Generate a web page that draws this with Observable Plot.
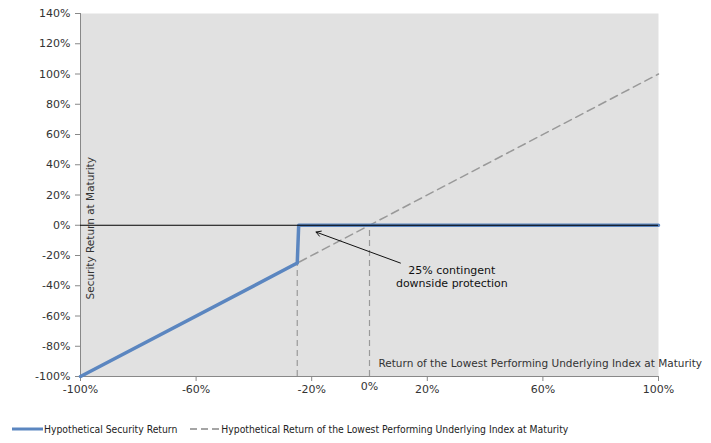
<!DOCTYPE html>
<html><head><meta charset="utf-8">
<script src="https://cdn.jsdelivr.net/npm/d3@7"></script>
<script src="https://cdn.jsdelivr.net/npm/@observablehq/plot@0.6"></script>
<style>
body{margin:0;background:#fff;font-family:"DejaVu Sans",Verdana,sans-serif;}
#legend{display:flex;align-items:center;height:28px;font-family:"DejaVu Sans Condensed","DejaVu Sans",sans-serif;font-stretch:condensed;font-size:10.3px;color:#222;padding-left:12px;}
#legend svg{display:inline-block;margin-right:1px;}
</style>
</head><body>
<div id="chart"></div>
<div id="legend">
<svg width="31" height="6"><line x1="0" y1="3" x2="31" y2="3" stroke="#5b86c0" stroke-width="3"/></svg><span>Hypothetical Security Return</span>
<svg width="30" height="6" style="margin-left:13px"><line x1="0" y1="3" x2="30" y2="3" stroke="#888" stroke-width="1.5" stroke-dasharray="7,4"/></svg><span>Hypothetical Return of the Lowest Performing Underlying Index at Maturity</span>
</div>
<script>
const indexX = [-100, 100];
const indexY = [-100, 100];
const securityX = [-100, -25, -24.5, 100];
const securityY = [-100, -25, 0, 0];
const guideX = [-25, 0];
const guideTop = [-25, 0];
const yTicks = [-100, -80, -60, -40, -20, 0, 20, 40, 60, 80, 100, 120, 140];
const xTicks = [-100, -60, -20, 20, 60, 100];
const annotationLines = ["25% contingent", "downside protection"];
const arrowFrom = [10.7, -25];
const arrowTo = [-18.5, -4.5];

const indexData = indexX.map((x, i) => ({x, y: indexY[i]}));
const secData = securityX.map((x, i) => ({x, y: securityY[i]}));
const guides = guideX.map((x, i) => ({x, y2: guideTop[i]}));

const chart = Plot.plot({
  width: 711,
  height: 415,
  marginTop: 13,
  marginBottom: 39,
  marginLeft: 80,
  marginRight: 53,
  style: {fontFamily: "DejaVu Sans, Verdana, sans-serif", fontSize: "11px", color: "#333"},
  x: {domain: [-100, 100]},
  y: {domain: [-100, 140]},
  marks: [
    Plot.frame({fill: "#e1e1e1", stroke: null}),
    Plot.ruleX([-100], {stroke: "#888", strokeWidth: 1}),
    Plot.ruleY([-100], {stroke: "#888", strokeWidth: 1}),
    Plot.axisY({ticks: yTicks, tickFormat: d => d + "%", tickSize: 5, tickPadding: 5, label: null, stroke: "#888", fill: "#333"}),
    Plot.axisX({ticks: xTicks, tickFormat: d => d + "%", tickSize: 5, tickPadding: 4, label: null, stroke: "#888", fill: "#333"}),
    Plot.text([0], {x: d => d, y: -100, text: d => d + "%", dy: 10, fill: "#333", fontSize: 11}),
    Plot.ruleX(guides, {x: "x", y1: -100, y2: "y2", stroke: "#999", strokeWidth: 1.2, strokeDasharray: "6,4"}),
    Plot.line(indexData, {x: "x", y: "y", stroke: "#999", strokeWidth: 1.5, strokeDasharray: "8,5"}),
    Plot.line(secData, {x: "x", y: "y", stroke: "#5b86c0", strokeWidth: 3.5}),
    Plot.ruleY([0], {stroke: "#000", strokeWidth: 1}),
    Plot.arrow([{x1: arrowFrom[0], y1: arrowFrom[1], x2: arrowTo[0], y2: arrowTo[1]}], {x1: "x1", y1: "y1", x2: "x2", y2: "y2", stroke: "#111", strokeWidth: 1, headLength: 8}),
    Plot.text([annotationLines.join("\n")], {x: 28.5, y: -34, text: d => d, fill: "#111", fontSize: 11, lineHeight: 1.15}),
    Plot.text(["Security Return at Maturity"], {x: -100, y: -2, text: d => d, rotate: -90, dx: 10, fill: "#333", fontSize: 10.5}),
    Plot.text(["Return of the Lowest Performing Underlying Index at Maturity"], {x: 3.1, y: -91.5, text: d => d, textAnchor: "start", fill: "#333", fontSize: 10.5})
  ]
});
document.getElementById("chart").appendChild(chart);
</script>
</body></html>
